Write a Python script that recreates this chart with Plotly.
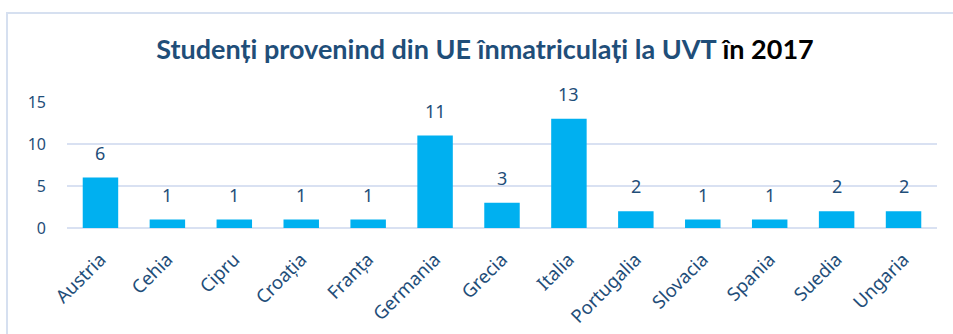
import plotly.graph_objects as go

# Students from EU countries enrolled at UVT in 2017
countries = ["Austria", "Cehia", "Cipru", "Croația", "Franța", "Germania", "Grecia",
             "Italia", "Portugalia", "Slovacia", "Spania", "Suedia", "Ungaria"]
students = [6, 1, 1, 1, 1, 11, 3, 13, 2, 1, 1, 2, 2]
y_ticks = [0, 5, 10, 15]

TEXT_BLUE = "#1F4E79"
BAR_BLUE = "#00B0F0"
GRID = "#D9E1F2"
LABEL_FONT = "Noto Sans, Open Sans, sans-serif"

W, H = 953, 334
ML, MR, MT, MB = 67, 16, 102, 106

fig = go.Figure(
    go.Bar(
        x=countries,
        y=students,
        marker=dict(color=BAR_BLUE, line=dict(width=0)),
        hoverinfo="x+y",
    )
)

# value labels above bars
for c, v in zip(countries, students):
    fig.add_annotation(
        x=c, y=v, text=str(v), showarrow=False,
        yanchor="middle", yshift=25,
        font=dict(family=LABEL_FONT, size=18, color=TEXT_BLUE),
    )

pw = W - ML - MR
ph = H - MT - MB
# light chart frame
fig.add_shape(
    type="rect", xref="paper", yref="paper",
    x0=(7 - ML) / pw, x1=(W + 10 - ML) / pw,
    y0=(H - MB - (H + 10)) / ph, y1=(H - MB - 13) / ph,
    line=dict(color="#D6E0F0", width=2), fillcolor="rgba(0,0,0,0)",
    layer="below",
)

fig.update_layout(
    width=W, height=H,
    margin=dict(l=ML, r=MR, t=MT, b=MB),
    paper_bgcolor="white", plot_bgcolor="white",
    bargap=0.47,
    showlegend=False,
    title=dict(
        text=("<b><span style='color:%s'>Studenți provenind din UE înmatriculați la UVT</span>"
              " în 2017</b>" % TEXT_BLUE),
        x=485 / W, xanchor="center", xref="container",
        y=1 - 50 / H, yanchor="middle", yref="container",
        font=dict(family="Lato", size=27, color="black"),
    ),
    xaxis=dict(
        tickangle=-45,
        tickfont=dict(family=LABEL_FONT, size=18.5, color=TEXT_BLUE),
        showgrid=False, showline=False, ticks="",
        ticklabelstandoff=16, automargin=False,
    ),
    yaxis=dict(
        range=[0, 15], tickvals=y_ticks,
        tickfont=dict(family=LABEL_FONT, size=16, color=TEXT_BLUE),
        showgrid=True, gridcolor=GRID, gridwidth=1.5,
        zeroline=True, zerolinecolor=GRID, zerolinewidth=1.5,
        showline=False, ticks="", ticklen=0,
        ticklabelstandoff=20, automargin=False,
    ),
)

fig.write_html("out.html")
